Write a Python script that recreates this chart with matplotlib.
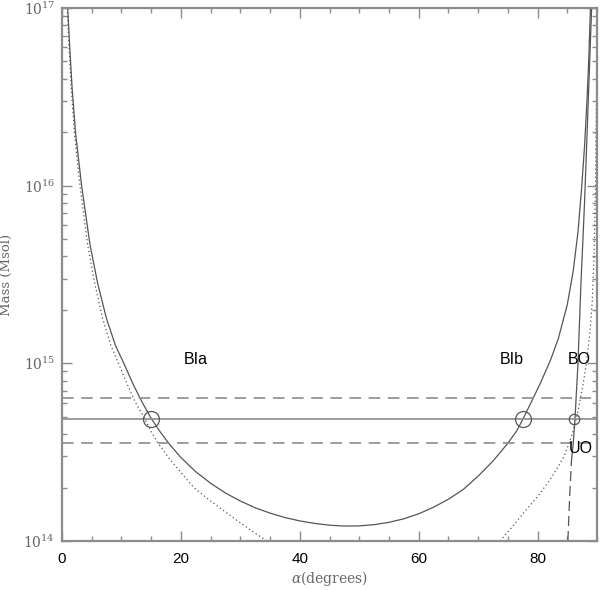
import matplotlib
matplotlib.use('Agg')
import matplotlib.pyplot as plt
import numpy as np
from matplotlib.ticker import FixedLocator, LogLocator, FuncFormatter, NullFormatter

# angles in degrees, masses as log10(M / Msol)

# solid U-shaped curve
bi_alpha = [0.96, 1.3, 1.7, 2.3, 3.3, 4.7, 6.0, 7.5, 9.0, 10.4, 12.0, 13.5,
            15.0, 16.5, 18.0, 20.0, 22.5, 25.0, 27.5, 30.0, 32.5, 35.0, 37.5,
            40.0, 42.5, 45.0, 47.5, 50.0, 52.5, 55.0, 57.5, 60.0, 62.5, 65.0,
            67.5, 70.0, 72.5, 75.0, 76.5, 77.6, 79.2, 80.5, 82.2, 83.5, 85.0,
            86.0, 86.8, 87.4, 87.9, 88.3, 88.6, 88.9]
bi_logm = [17.0, 16.78, 16.55, 16.29, 16.0, 15.67, 15.45, 15.25, 15.10, 15.0,
           14.88, 14.78, 14.69, 14.615, 14.548, 14.47, 14.39, 14.325, 14.27,
           14.225, 14.187, 14.157, 14.132, 14.113, 14.099, 14.089, 14.084,
           14.085, 14.092, 14.105, 14.125, 14.153, 14.19, 14.235, 14.29,
           14.365, 14.45, 14.55, 14.62, 14.69, 14.80, 14.89, 15.02, 15.14,
           15.33, 15.52, 15.74, 15.98, 16.22, 16.47, 16.7, 17.0]

# dotted curve, left branch
dot_l_alpha = [0.88, 1.19, 1.56, 2.1, 3.02, 4.3, 5.5, 6.86, 8.23, 9.5, 11.0,
               12.35, 13.9, 15.0, 16.2, 17.9, 19.9, 22.2, 24.8, 27.3, 29.8,
               32.3, 34.5]
dot_l_logm = [17.0, 16.78, 16.55, 16.29, 16.0, 15.67, 15.45, 15.25, 15.10,
              15.0, 14.88, 14.78, 14.69, 14.615, 14.548, 14.47, 14.39, 14.30,
              14.23, 14.168, 14.107, 14.048, 14.0]

# dotted curve, right branch
dot_r_alpha = [73.7, 75.5, 77.7, 80.0, 82.0, 83.5, 84.5, 85.3, 86.0, 86.6,
               87.2, 87.8, 88.3, 88.8, 89.2, 89.5, 89.75, 89.9, 90.0]
dot_r_logm = [14.0, 14.07, 14.16, 14.25, 14.34, 14.42, 14.48, 14.55, 14.62,
              14.70, 14.80, 14.91, 15.02, 15.17, 15.35, 15.6, 16.0, 16.5, 17.0]

# steep line near 90 deg (solid above, dashed below)
bo_alpha = [85.7, 86.0, 86.3, 86.8, 87.3, 87.9, 88.5, 89.1]
bo_logm = [14.45, 14.55, 14.69, 15.0, 15.45, 15.9, 16.45, 17.0]
uo_alpha = [85.1, 85.4, 85.7]
uo_logm = [14.0, 14.25, 14.45]

# measured mass and its range
m_obs = 14.687
m_hi = 14.805
m_lo = 14.553

# solutions
sol_alpha = [15.0, 77.6]
sol_small_alpha = [86.1]

labels = ['BIa', 'BIb', 'BO', 'UO']
label_alpha = [20.4, 73.6, 85.1, 85.2]
label_logm = [15.024, 15.024, 15.024, 14.523]

plt.rcParams['mathtext.fontset'] = 'dejavuserif'

fig = plt.figure(figsize=(6, 5.9), dpi=100)
ax = fig.add_axes([62/600, 49/590, 535/600, 533/590])

line_c = '#555555'
light_c = '#8c8c8c'

ax.plot(bi_alpha, 10**np.array(bi_logm), color=line_c, lw=0.9)
ax.plot(dot_l_alpha, 10**np.array(dot_l_logm), color=line_c, lw=0.9, ls=(0, (1, 2.2)))
ax.plot(dot_r_alpha, 10**np.array(dot_r_logm), color=line_c, lw=0.9, ls=(0, (1, 2.2)))
ax.plot(bo_alpha, 10**np.array(bo_logm), color=line_c, lw=0.9)
ax.plot(uo_alpha, 10**np.array(uo_logm), color=line_c, lw=0.9, ls=(0, (8, 4)))

ax.axhline(10**m_obs, color=light_c, lw=1.2)
ax.axhline(10**m_hi, color=light_c, lw=1.2, ls=(0, (7, 4.5)))
ax.axhline(10**m_lo, color=light_c, lw=1.2, ls=(0, (7, 4.5)))

ax.plot(sol_alpha, [10**m_obs]*len(sol_alpha), 'o', mfc='none', mec=line_c,
        ms=11.5, mew=0.9)
ax.plot(sol_small_alpha, [10**m_obs]*len(sol_small_alpha), 'o', mfc='none',
        mec=line_c, ms=7.5, mew=0.9)

for s, a, m in zip(labels, label_alpha, label_logm):
    ax.text(a, 10**m, s, ha='left', va='center', fontsize=11.5,
            family='Liberation Sans', color='black')

ax.set_xlim(0, 90)
ax.set_yscale('log')
ax.set_ylim(1e14, 1e17)

ax.xaxis.set_major_locator(FixedLocator([0, 20, 40, 60, 80]))
ax.xaxis.set_minor_locator(FixedLocator(np.arange(0, 91, 5)))
ax.yaxis.set_major_locator(LogLocator(base=10, numticks=10))
ax.yaxis.set_minor_locator(LogLocator(base=10, subs=np.arange(2, 10), numticks=20))
ax.yaxis.set_minor_formatter(NullFormatter())
ax.yaxis.set_major_formatter(FuncFormatter(lambda v, p: r'$10^{%d}$' % round(np.log10(v))))

ax.tick_params(which='both', direction='in', top=True, right=True, color=light_c, width=1)
ax.tick_params(which='major', length=7)
ax.tick_params(which='minor', length=3.5)
ax.tick_params(axis='x', labelsize=11, pad=8)
ax.tick_params(axis='y', labelsize=10, labelcolor='#666666', pad=5)
for lab in ax.get_xticklabels():
    lab.set_family('Liberation Sans')

for sp in ax.spines.values():
    sp.set_color(light_c)
    sp.set_linewidth(1.6)

ax.set_xlabel(r'$\alpha$(degrees)', fontsize=10, family='DejaVu Serif', color='#666666', labelpad=2)
ax.set_ylabel('Mass (Msol)', fontsize=9.5, family='DejaVu Serif', color='#666666')
ax.yaxis.set_label_coords(-0.092, 0.5)

fig.savefig('out.png', dpi=100)
